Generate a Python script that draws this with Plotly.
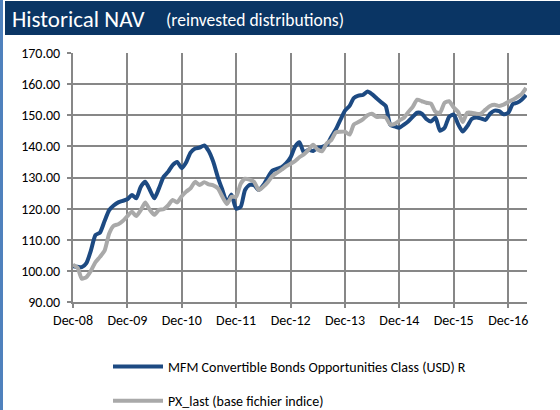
import pandas as pd
import plotly.graph_objects as go

# Monthly dates, Dec-2008 .. Apr-2017
dates = pd.date_range("2008-12-31", periods=101, freq="ME")

fund_values = [
    101.5, 101.3, 101.2, 102.5, 106.5, 111.5, 112.3, 116.0, 119.5, 121.0, 122.0, 122.5,
    123.0, 124.4, 123.3, 127.0, 128.6, 126.0, 123.3, 126.5, 130.2, 131.8, 134.0, 135.0,
    133.0, 135.0, 138.0, 139.3, 139.6, 140.3, 138.5, 135.0, 130.0, 126.0, 122.0, 124.5,
    120.0, 120.6, 126.0, 127.6, 127.5, 126.0, 127.5, 130.0, 132.2, 132.8, 133.3, 134.5,
    136.5, 140.0, 141.3, 138.0, 138.9, 138.5, 139.5, 139.8, 140.5, 143.0, 145.5, 148.5,
    151.5, 153.0, 155.5, 156.3, 156.5, 157.6, 156.8, 155.5, 154.2, 153.0, 147.0, 146.4,
    146.0, 147.0, 148.0, 149.5, 150.8, 150.5, 148.8, 148.0, 149.2, 145.0, 146.0, 149.5,
    150.2, 147.0, 144.8, 146.5, 148.8, 149.3, 149.0, 148.5, 150.5, 151.5, 151.3, 150.3,
    150.8, 153.6, 154.0, 155.0, 156.5,
]

index_values = [
    102.0, 101.0, 97.5, 98.0, 100.0, 102.8, 104.5, 106.5, 112.0, 114.5, 115.0, 116.0,
    117.6, 119.0, 117.6, 119.5, 122.0, 119.6, 118.0, 119.6, 119.8, 121.0, 122.8, 122.0,
    124.0, 125.5, 126.5, 128.6, 127.6, 128.5, 127.8, 127.5, 126.5, 123.8, 121.5, 123.8,
    123.8, 128.0, 129.6, 129.3, 128.6, 126.0, 127.0, 128.5, 130.5, 131.5, 132.5, 133.6,
    134.4, 135.3, 136.5, 137.5, 138.9, 140.5, 139.0, 138.5, 141.0, 142.0, 144.5, 144.7,
    144.7, 143.8, 147.0, 147.8, 148.7, 150.0, 150.5, 149.5, 149.5, 149.3, 147.0, 147.2,
    148.3, 149.2, 151.0, 152.7, 155.0, 154.5, 154.0, 153.7, 151.1, 150.8, 154.0, 154.5,
    152.5, 151.0, 147.8, 150.8, 150.8, 150.5, 150.5, 151.8, 153.0, 153.4, 153.0, 153.4,
    154.3, 155.0, 155.8, 156.8, 158.8,
]

tick_dates = [d for d in dates if d.month == 12]
tick_labels = [d.strftime("Dec-%y") for d in tick_dates]
y_ticks = [90, 100, 110, 120, 130, 140, 150, 160, 170]
y_labels = [f"{v:.2f}" for v in y_ticks]

series_names = ["MFM Convertible Bonds Opportunities Class (USD) R",
                "PX_last (base fichier indice)"]

FONT = "Carlito, Lato, 'Liberation Sans', sans-serif"
GRID = "#878787"

# plot area in pixels: left 73, right 527, top 53, bottom 302
PL, PR, PT, PB = 73, 527, 53, 302
def px(p):
    return (p - PL) / (PR - PL)
def py(q):
    return (PB - q) / (PB - PT)

fig = go.Figure()
fig.add_trace(go.Scatter(x=dates, y=fund_values, mode="lines", name=series_names[0],
                         line=dict(color="#1d4a82", width=4, shape="spline", smoothing=0.6),
                         legendgroup="a"))
fig.add_trace(go.Scatter(x=dates, y=index_values, mode="lines", name=series_names[1],
                         line=dict(color="#a9a9a9", width=4, shape="spline", smoothing=0.6),
                         legendgroup="b"))

fig.update_layout(
    width=560, height=410,
    margin=dict(l=PL, r=560 - PR, t=PT, b=410 - PB, pad=0, autoexpand=False),
    paper_bgcolor="white", plot_bgcolor="white",
    font=dict(family=FONT, size=13, color="black"),
    showlegend=True,
    legend=dict(x=px(108), y=py(351), xanchor="left", yanchor="top",
                traceorder="grouped", tracegroupgap=13, itemwidth=50,
                font=dict(family=FONT, size=14, color="black"),
                bgcolor="rgba(0,0,0,0)"),
    xaxis=dict(type="date", range=[dates[0], pd.Timestamp("2017-05-06")],
               tickvals=tick_dates, ticktext=tick_labels,
               showgrid=True, gridcolor=GRID, gridwidth=2,
               showline=True, linecolor=GRID, linewidth=2,
               ticks="outside", ticklen=4, tickcolor=GRID, tickwidth=2,
               tickfont=dict(family=FONT, size=14, color="black"),
               zeroline=False, automargin=False),
    yaxis=dict(range=[90, 170], tickvals=y_ticks, ticktext=y_labels,
               showgrid=True, gridcolor=GRID, gridwidth=2,
               showline=True, linecolor=GRID, linewidth=2,
               ticks="outside", ticklen=4, tickcolor=GRID, tickwidth=2,
               ticklabelstandoff=4,
               tickfont=dict(family=FONT, size=14, color="black"),
               zeroline=False, automargin=False),
    shapes=[
        dict(type="rect", xref="paper", yref="paper",
             x0=px(5), x1=px(560), y0=py(35), y1=py(1),
             fillcolor="#0a3564", line=dict(width=0), layer="below"),
        dict(type="rect", xref="paper", yref="paper",
             x0=px(0), x1=px(3), y0=py(410), y1=py(0),
             fillcolor="#4f81bd", line=dict(width=0), layer="below"),
    ],
    annotations=[
        dict(text="Historical NAV", xref="paper", yref="paper",
             x=px(10), y=py(19), xanchor="left", yanchor="middle",
             showarrow=False, font=dict(family=FONT, size=23, color="white")),
        dict(text="(reinvested distributions)", xref="paper", yref="paper",
             x=px(164), y=py(20), xanchor="left", yanchor="middle",
             showarrow=False, font=dict(family=FONT, size=17.5, color="white")),
    ],
)

fig.write_html("out.html",
               config={"displayModeBar": False, "staticPlot": True},
               post_script="document.body.style.margin='0';document.body.style.padding='0';")
